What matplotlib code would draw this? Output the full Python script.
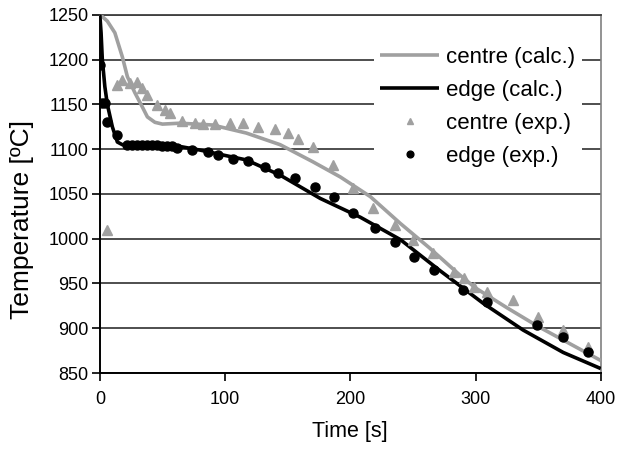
import matplotlib
matplotlib.use("Agg")
import matplotlib.pyplot as plt

plt.rcParams['font.family'] = ['Liberation Sans', 'DejaVu Sans']

# centre (calc.)
centre_calc_t = [0, 2, 6, 12, 18, 22, 28, 34, 38, 44, 50, 64, 90, 117, 144, 170, 192, 216, 240, 263, 287, 300, 325, 350, 375, 400]
centre_calc_T = [1250, 1248, 1243, 1230, 1203, 1181, 1163, 1147, 1136, 1130, 1128, 1129, 1127, 1118, 1105, 1086, 1069, 1047, 1017, 990, 960, 945, 923, 902, 883, 864]

# edge (calc.)
edge_calc_t = [0, 1, 2, 4, 6, 10, 14, 18, 30, 50, 64, 80, 100, 117, 144, 176, 208, 240, 271, 306, 338, 370, 400]
edge_calc_T = [1250, 1230, 1200, 1170, 1150, 1125, 1108, 1105, 1105, 1105, 1103, 1099, 1093, 1088, 1071, 1045, 1024, 999, 965, 928, 898, 873, 855]

# centre (exp.)
centre_exp_t = [6, 14, 18, 24, 30, 34, 38, 46, 52, 56, 66, 76, 82, 92, 104, 114, 126, 140, 150, 158, 170, 186, 202, 218, 236, 250, 266, 283, 291, 299, 309, 330, 350, 370, 390]
centre_exp_T = [1010, 1172, 1177, 1174, 1175, 1168, 1161, 1149, 1144, 1140, 1131, 1129, 1128, 1128, 1129, 1129, 1125, 1122, 1118, 1111, 1102, 1082, 1057, 1034, 1015, 999, 984, 963, 956, 946, 941, 932, 913, 898, 879]

# edge (exp.)
edge_exp_t = [0, 2, 4, 6, 14, 22, 26, 30, 34, 38, 42, 46, 50, 54, 58, 62, 74, 86, 94, 106, 118, 132, 142, 156, 172, 187, 202, 220, 236, 251, 267, 290, 309, 349, 370, 390]
edge_exp_T = [1194, 1152, 1152, 1130, 1116, 1105, 1105, 1105, 1105, 1105, 1105, 1105, 1104, 1104, 1103, 1101, 1099, 1097, 1094, 1089, 1087, 1080, 1073, 1068, 1058, 1047, 1029, 1012, 996, 980, 965, 943, 929, 904, 890, 873]

x_ticks = [0, 100, 200, 300, 400]
y_ticks = [850, 900, 950, 1000, 1050, 1100, 1150, 1200, 1250]

GRAY = '#a0a0a0'

fig = plt.figure(figsize=(6.2, 4.5), dpi=100)
ax = fig.add_axes([0.161, 0.171, 0.808, 0.796])

ax.plot(centre_calc_t, centre_calc_T, color=GRAY, lw=2.6, label='centre (calc.)', zorder=3, solid_capstyle='butt')
ax.plot(edge_calc_t, edge_calc_T, color='black', lw=2.6, label='edge (calc.)', zorder=4, solid_capstyle='butt')
ax.plot(centre_exp_t, centre_exp_T, ls='none', marker='^', ms=6.5, color=GRAY, mec=GRAY, label='centre (exp.)', zorder=5)
ax.plot(edge_exp_t, edge_exp_T, ls='none', marker='o', ms=6.5, color='black', label='edge (exp.)', zorder=6)

ax.set_xlim(0, 400)
ax.set_ylim(850, 1250)
ax.set_xticks(x_ticks)
ax.set_yticks(y_ticks)
ax.tick_params(labelsize=13, width=1.2, length=6, direction='out', color='black')
ax.tick_params(axis='x', pad=7)
ax.tick_params(axis='y', pad=2)
ax.yaxis.grid(True, color='#404040', lw=1.3, zorder=1)
ax.set_axisbelow(True)

for s in ['left', 'bottom']:
    ax.spines[s].set_color('black')
    ax.spines[s].set_linewidth(1.4)
ax.spines['right'].set_color('#808080')
ax.spines['right'].set_linewidth(1.2)
ax.spines['top'].set_color('#404040')
ax.spines['top'].set_linewidth(1.3)

ax.set_xlabel('Time [s]', fontsize=15.5, labelpad=9)
ax.set_ylabel('Temperature [ºC]', fontsize=19, va='center')
ax.yaxis.set_label_coords(-0.156, 0.43)

leg = ax.legend(loc='upper right', bbox_to_anchor=(0.962, 0.93), frameon=True, fontsize=16,
                handlelength=2.65, handletextpad=0.3, labelspacing=0.55, borderpad=0.3,
                borderaxespad=0, markerscale=0.75)
leg.get_frame().set_edgecolor('none')
leg.get_frame().set_facecolor('white')
leg.get_frame().set_alpha(1)
leg.get_frame().set_boxstyle('square', pad=0)

fig.savefig('out.png', dpi=100)
